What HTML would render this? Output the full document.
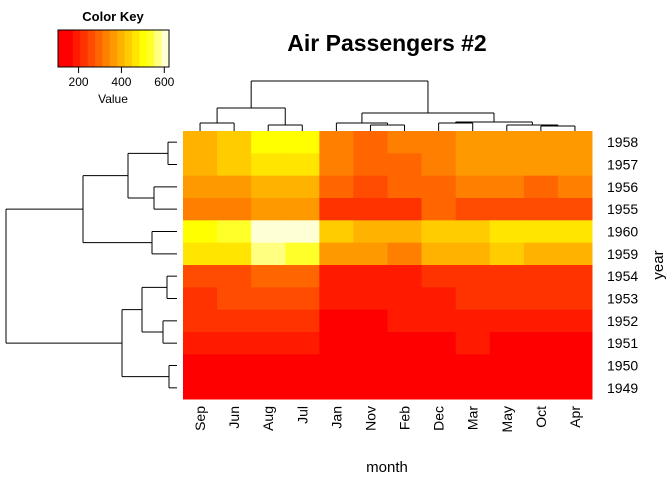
<!DOCTYPE html>
<html><head><meta charset="utf-8"><style>
body{margin:0;background:#fff}
svg text{font-family:"Liberation Sans",Arial,sans-serif}
</style></head><body>
<svg id="c" width="672" height="480" xmlns="http://www.w3.org/2000/svg"></svg>
<script>
const months=["Sep","Jun","Aug","Jul","Jan","Nov","Feb","Dec","Mar","May","Oct","Apr"];
const years=["1958","1957","1956","1955","1960","1959","1954","1953","1952","1951","1950","1949"];
const v1958=[404,435,505,491,340,310,318,337,362,363,359,348];
const v1957=[404,422,467,465,315,305,301,336,356,355,347,348];
const v1956=[355,374,405,413,284,271,277,306,317,318,306,313];
const v1955=[312,315,347,364,242,237,233,278,267,270,274,269];
const v1960=[508,535,606,622,417,390,391,432,419,472,461,461];
const v1959=[463,472,559,548,360,362,342,405,406,420,407,396];
const v1954=[259,264,293,302,204,203,188,229,235,234,229,227];
const v1953=[237,243,272,264,196,180,196,201,236,229,211,235];
const v1952=[209,218,242,230,171,172,180,194,193,183,191,181];
const v1951=[184,178,199,199,145,146,150,166,178,172,162,163];
const v1950=[158,149,170,170,115,114,126,140,141,125,133,135];
const v1949=[136,135,148,148,112,104,118,118,132,121,119,129];
const values=[v1958,v1957,v1956,v1955,v1960,v1959,v1954,v1953,v1952,v1951,v1950,v1949];
const keyTicks=[200,400,600];

const NS="http://www.w3.org/2000/svg";
const svg=document.getElementById('c');
function mk(t,a,txt){const e=document.createElementNS(NS,t);for(const k in a)e.setAttribute(k,a[k]);if(txt!==undefined)e.textContent=txt;svg.appendChild(e);return e;}
function hsv(h,s,v){const f=n=>{const k=(n+h*6)%6;return v-v*s*Math.max(0,Math.min(k,4-k,1));};return `rgb(${Math.round(f(5)*255)},${Math.round(f(3)*255)},${Math.round(f(1)*255)})`;}
const cols=[hsv(0,1,1)];for(let k=0;k<11;k++)cols.push(hsv(k/10/6,1,1));
[5/6,1/2,1/6].forEach(s=>cols.push(hsv(1/6,s,1)));
let all=values.flat();const vmin=Math.min(...all),vmax=Math.max(...all);
const nb=cols.length;
function colorOf(v){let i=Math.floor((v-vmin)/(vmax-vmin)*nb);return cols[Math.max(0,Math.min(nb-1,i))];}
const X0=183,X1=592,Y0=131,Y1=399;
const cw=(X1-X0)/months.length,rh=(Y1-Y0)/years.length;
const xc=i=>X0+cw*(i+0.5), yc=i=>Y0+rh*(i+0.5);
values.forEach((row,r)=>row.forEach((v,c)=>{
 const e=mk('rect',{x:X0+cw*c,y:Y0+rh*r,width:cw+0.5,height:rh+0.5,fill:colorOf(v)});
 
 
}));
months.forEach((m,i)=>{const e=mk('text',{x:0,y:0,transform:`translate(${xc(i)+5},${406}) rotate(-90)`,'text-anchor':'end','font-size':14},m);
 });
years.forEach((y,i)=>{const e=mk('text',{x:607,y:yc(i)+5,'font-size':14},y);
 });
let e;
e=mk('text',{x:387,y:472,'text-anchor':'middle','font-size':15},'month');
e=mk('text',{x:0,y:0,transform:'translate(663,265) rotate(-90)','text-anchor':'middle','font-size':15},'year');
e=mk('text',{x:387,y:51,'text-anchor':'middle','font-size':23,'font-weight':'bold'},'Air Passengers #2');
const ln=(x1,y1,x2,y2,n)=>{const l=mk('line',{x1,y1,x2,y2,stroke:'#000','stroke-width':1});};
function ctop(xa,xb,y,ya,yb,n){ln(xa,y,xb,y,n);ln(xa,y,xa,ya,n);ln(xb,y,xb,yb,n);}
const L=Y0;
ctop(xc(0),xc(1),123,L,L,'col-dendro');ctop(xc(2),xc(3),125,L,L,'col-dendro');
ctop((xc(0)+xc(1))/2,(xc(2)+xc(3))/2,108,123,125,'col-dendro');
ctop(xc(5),xc(6),125,L,L,'col-dendro');ctop(xc(4),(xc(5)+xc(6))/2,123,L,125,'col-dendro');
ctop(xc(7),xc(8),123,L,L,'col-dendro');ctop(xc(10),xc(11),126,L,L,'col-dendro');
const mOA=(xc(10)+xc(11))/2;ctop(xc(9),mOA,125,L,126,'col-dendro');
const mA=(xc(4)+(xc(5)+xc(6))/2)/2,mB=(xc(7)+xc(8))/2,mC=(xc(9)+mOA)/2;
ctop(mB,mC,122,123,125,'col-dendro');
const mL=((xc(0)+xc(1))/2+(xc(2)+xc(3))/2)/2,mR=(mA+(mB+mC)/2)/2;
ctop(mA,(mB+mC)/2,113,123,122,'col-dendro');
ctop(mL,mR,81,108,113,'col-dendro');
function rleft(ya,yb,x,xa,xb,n){ln(x,ya,x,yb,n);ln(x,ya,xa,ya,n);ln(x,yb,xb,yb,n);}
const R=177;
rleft(yc(0),yc(1),168,R,R,'row-dendro');rleft(yc(2),yc(3),154,R,R,'row-dendro');
const a1=(yc(0)+yc(1))/2,a2=(yc(2)+yc(3))/2;rleft(a1,a2,128,168,154,'row-dendro');
rleft(yc(4),yc(5),152,R,R,'row-dendro');
const a3=(a1+a2)/2,a4=(yc(4)+yc(5))/2;rleft(a3,a4,83,128,152,'row-dendro');
rleft(yc(6),yc(7),167,R,R,'row-dendro');rleft(yc(8),yc(9),163,R,R,'row-dendro');
const b1=(yc(6)+yc(7))/2,b2=(yc(8)+yc(9))/2;rleft(b1,b2,142,167,163,'row-dendro');
rleft(yc(10),yc(11),169,R,R,'row-dendro');
const b3=(b1+b2)/2,b4=(yc(10)+yc(11))/2;rleft(b3,b4,122,142,169,'row-dendro');
rleft((a3+a4)/2,(b3+b4)/2,6,83,122,'row-dendro');
const KX0=58,KX1=169,KY0=30,KY1=67;
const kx=v=>KX0+(v-vmin)/(vmax-vmin)*(KX1-KX0);
cols.forEach((c,i)=>{const r=mk('rect',{x:KX0+(KX1-KX0)*i/nb,y:KY0,width:(KX1-KX0)/nb+0.4,height:KY1-KY0,fill:c});
 });
e=mk('rect',{x:KX0,y:KY0,width:KX1-KX0,height:KY1-KY0,fill:'none',stroke:'#000','stroke-width':1});
keyTicks.forEach(t=>{ln(kx(t),KY1,kx(t),KY1+6,'key-tick');
 const tx=mk('text',{x:kx(t),y:86,'text-anchor':'middle','font-size':12},String(t));});
e=mk('text',{x:113,y:103,'text-anchor':'middle','font-size':12},'Value');
e=mk('text',{x:113,y:21,'text-anchor':'middle','font-size':13,'font-weight':'bold'},'Color Key');
</script>
</body></html>
